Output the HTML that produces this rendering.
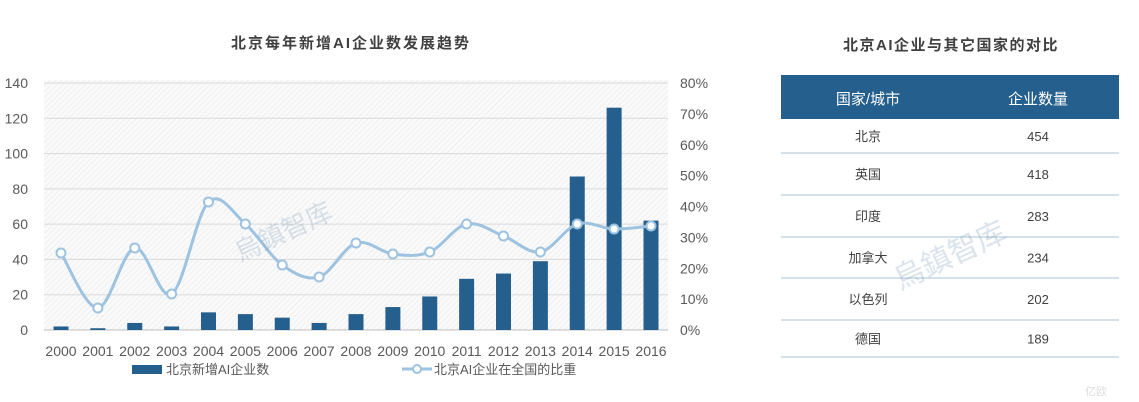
<!DOCTYPE html>
<html><head><meta charset="utf-8"><style>
body{margin:0;width:1139px;height:402px;background:#fff;overflow:hidden;font-family:"Liberation Sans","Noto Sans CJK SC",sans-serif;}
svg{position:absolute;left:0;top:0}
</style></head><body>
<svg width="1139" height="402" xmlns="http://www.w3.org/2000/svg" id="s">
<defs>
<pattern id="h" width="4" height="4" patternUnits="userSpaceOnUse" patternTransform="rotate(45)">
<rect width="4" height="4" fill="#fafafa"/><line x1="0" y1="0" x2="0" y2="4" stroke="#e4e4e4" stroke-width="1"/>
</pattern>
</defs>
<rect x="44" y="80" width="624" height="250" fill="url(#h)"/>
<text x="351" y="48" text-anchor="middle" font-size="15" font-weight="bold" fill="#404040" letter-spacing="2">北京每年新增AI企业数发展趋势</text>
<text x="951" y="50" text-anchor="middle" font-size="15" font-weight="bold" fill="#404040" letter-spacing="1.5">北京AI企业与其它国家的对比</text>
<g id="grid"></g>
<g id="bars"></g>
<path id="ln" fill="none" stroke="#9dc3e0" stroke-width="3"/>
<g id="dots"></g>
<g font-size="14" fill="#595959" id="lab"></g>
<rect x="132" y="365" width="30" height="9" fill="#245f8e"/>
<text x="166" y="374" font-size="13" fill="#595959">北京新增AI企业数</text>
<line x1="402" y1="369" x2="432" y2="369" stroke="#9dc3e0" stroke-width="3"/>
<circle cx="417" cy="369" r="4" fill="#fff" stroke="#9dc3e0" stroke-width="2"/>
<text x="434" y="374" font-size="13" fill="#595959">北京AI企业在全国的比重</text>
<rect x="781" y="75" width="338" height="44" fill="#245f8e"/>
<text x="868" y="104" text-anchor="middle" font-size="15" fill="#fff">国家/城市</text>
<text x="1038" y="104" text-anchor="middle" font-size="15" fill="#fff">企业数量</text>
<g id="tb" font-size="13" fill="#404040"></g>
<g opacity="0.25" fill="#6a8fb0"><text x="240" y="262" font-size="26" transform="rotate(-25 240 262)">烏鎮智库</text><text x="900" y="290" font-size="30" transform="rotate(-25 900 290)">烏鎮智库</text></g>
<text x="1085" y="395" font-size="11" fill="#ddd">亿欧</text>
</svg>
<script>
var ns="http://www.w3.org/2000/svg";
function el(p,t,a,tx){var e=document.createElementNS(ns,t);for(var k in a)e.setAttribute(k,a[k]);if(tx)e.textContent=tx;document.getElementById(p).appendChild(e);}
var y0=330,u=247/140;
for(var i=0;i<=7;i++){var y=y0-i*20*u;el("grid","line",{x1:44,x2:668,y1:y,y2:y,stroke:i?"#d9d9d9":"#bfbfbf","stroke-width":1});
el("lab","text",{x:28,y:y+5,"text-anchor":"end"},String(i*20));}
for(var i=0;i<=8;i++){var y=y0-i*247/8;el("lab","text",{x:680,y:y+5},i*10+"%");}
var bars=[2,1,4,2,10,9,7,4,9,13,19,29,32,39,87,126,62];
var ly=[253,308,248,294,202,224,265,277,243,254,252,224,236,252,224,229,226];
var pts=[];
for(var i=0;i<17;i++){var cx=61+i*36.875;
el("bars","rect",{x:cx-7.5,y:y0-bars[i]*u,width:15,height:bars[i]*u,fill:"#245f8e"});
el("lab","text",{x:cx,y:356,"text-anchor":"middle"},String(2000+i));
pts.push([cx,ly[i]]);}
var d="M"+pts[0][0]+","+pts[0][1];
for(var i=0;i<16;i++){var p0=pts[Math.max(0,i-1)],p1=pts[i],p2=pts[i+1],p3=pts[Math.min(16,i+2)];
d+=" C"+(p1[0]+(p2[0]-p0[0])/6)+","+(p1[1]+(p2[1]-p0[1])/6)+" "+(p2[0]-(p3[0]-p1[0])/6)+","+(p2[1]-(p3[1]-p1[1])/6)+" "+p2[0]+","+p2[1];}
document.getElementById("ln").setAttribute("d",d);
pts.forEach(function(p){el("dots","circle",{cx:p[0],cy:p[1],r:4.5,fill:"#fff",stroke:"#9dc3e0","stroke-width":2});});
var rows=[["北京","454"],["英国","418"],["印度","283"],["加拿大","234"],["以色列","202"],["德国","189"]];
var seps=[153,195,237,278,320,357],tops=[119,153,195,237,278,320];
rows.forEach(function(r,i){var cy=(tops[i]+seps[i])/2+5;
el("tb","text",{x:868,y:cy,"text-anchor":"middle"},r[0]);
el("tb","text",{x:1038,y:cy,"text-anchor":"middle"},r[1]);
el("tb","line",{x1:781,x2:1119,y1:seps[i],y2:seps[i],stroke:"#a9c3d6","stroke-width":1});});
</script>
</body></html>
